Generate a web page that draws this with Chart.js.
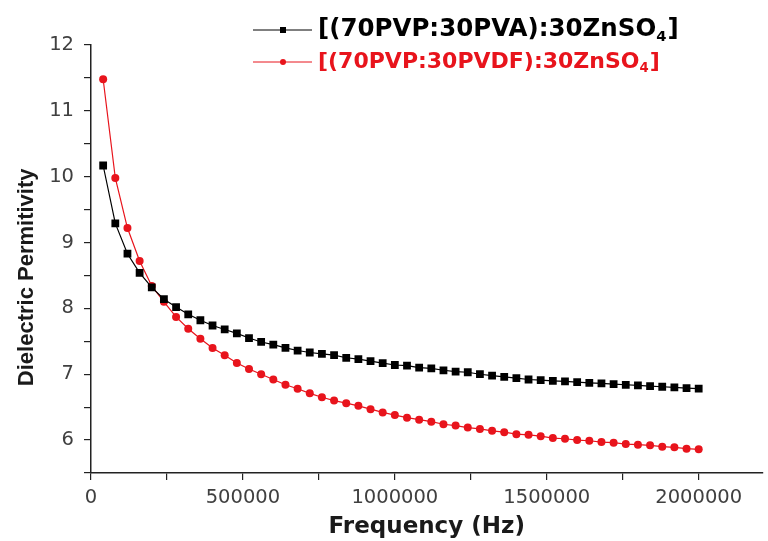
<!DOCTYPE html>
<html>
<head>
<meta charset="utf-8">
<script src="https://cdn.jsdelivr.net/npm/chart.js@4/dist/chart.umd.min.js"></script>
<style>
    body { margin: 0; background: #fff; }
    #wrap { width: 768px; height: 541px; position: relative; }
</style>
</head>
<body>
<div id="wrap"><canvas id="permChart"></canvas></div>
<script>
// Frequency (Hz)
const freq = [
    40000, 80000, 120000, 160000, 200000, 240000, 280000, 320000, 360000, 400000,
    440000, 480000, 520000, 560000, 600000, 640000, 680000, 720000, 760000, 800000,
    840000, 880000, 920000, 960000, 1000000, 1040000, 1080000, 1120000, 1160000, 1200000,
    1240000, 1280000, 1320000, 1360000, 1400000, 1440000, 1480000, 1520000, 1560000, 1600000,
    1640000, 1680000, 1720000, 1760000, 1800000, 1840000, 1880000, 1920000, 1960000, 2000000
];

// [(70PVP:30PVA):30ZnSO4]
const pvaValues = [
    10.17, 9.29, 8.83, 8.54, 8.32, 8.14, 8.02, 7.91, 7.82, 7.74,
    7.68, 7.62, 7.55, 7.49, 7.45, 7.40, 7.36, 7.33, 7.31, 7.29,
    7.25, 7.23, 7.20, 7.17, 7.14, 7.13, 7.10, 7.09, 7.06, 7.04,
    7.03, 7.00, 6.98, 6.96, 6.94, 6.92, 6.91, 6.90, 6.89, 6.88,
    6.87, 6.86, 6.85, 6.84, 6.83, 6.82, 6.81, 6.80, 6.79, 6.78
];

// [(70PVP:30PVDF):30ZnSO4]
const pvdfValues = [
    11.48, 9.98, 9.22, 8.72, 8.34, 8.10, 7.87, 7.69, 7.54, 7.40,
    7.29, 7.17, 7.08, 7.00, 6.92, 6.84, 6.78, 6.71, 6.65, 6.60,
    6.56, 6.52, 6.47, 6.42, 6.38, 6.34, 6.31, 6.28, 6.24, 6.22,
    6.19, 6.17, 6.14, 6.12, 6.09, 6.08, 6.06, 6.03, 6.02, 6.00,
    5.99, 5.97, 5.96, 5.94, 5.93, 5.92, 5.90, 5.89, 5.87, 5.86
];

const seriesNames = ['[(70PVP:30PVA):30ZnSO\u2084]', '[(70PVP:30PVDF):30ZnSO\u2084]'];
const seriesColors = ['#000000', '#e8141c'];

// major ticks get a label, the ones in between are minor
const xTickValues = [0, 250000, 500000, 750000, 1000000, 1250000, 1500000, 1750000, 2000000];
const xTickLabels = ['0', '', '500000', '', '1000000', '', '1500000', '', '2000000'];
const yTickValues = [5.5, 6, 6.5, 7, 7.5, 8, 8.5, 9, 9.5, 10, 10.5, 11, 11.5, 12];
const yTickLabels = ['', '6', '', '7', '', '8', '', '9', '', '10', '', '11', '', '12'];

const xTitle = 'Frequency (Hz)';
const yTitle = 'Dielectric Permitivity';

function toPoints(values) {
    return values.map((v, i) => ({ x: freq[i], y: v }));
}

// legend drawn by hand so the "4" can be a real subscript
const legendRows = [
    { y: 30, size: 24.5 },
    { y: 62, size: 22 }
];

const subLegend = {
    id: 'subLegend',
    afterDraw(chart) {
        const ctx = chart.ctx;
        chart.data.datasets.forEach((ds, i) => {
            const row = legendRows[i];
            ctx.save();
            ctx.strokeStyle = ds.borderColor;
            ctx.fillStyle = ds.borderColor;
            ctx.lineWidth = 1;
            ctx.beginPath();
            ctx.moveTo(253, row.y);
            ctx.lineTo(312, row.y);
            ctx.stroke();
            if (ds.pointStyle === 'rect') {
                ctx.fillRect(280, row.y - 3, 6, 6);
            } else {
                ctx.beginPath();
                ctx.arc(283, row.y, 3, 0, Math.PI * 2);
                ctx.fill();
            }

            const font = 'bold ' + row.size + 'px "DejaVu Sans"';
            const subFont = 'bold ' + (row.size * 0.6).toFixed(1) + 'px "DejaVu Sans"';
            const parts = ds.label.split('\u2084');
            ctx.textBaseline = 'middle';
            ctx.textAlign = 'left';
            let x = 318;
            ctx.font = font;
            ctx.fillText(parts[0], x, row.y);
            x += ctx.measureText(parts[0]).width;
            ctx.font = subFont;
            ctx.fillText('4', x, row.y + row.size * 0.3);
            x += ctx.measureText('4').width + 1;
            ctx.font = font;
            ctx.fillText(parts[1], x, row.y);
            ctx.restore();
        });
    }
};

const permChartConfig = {
    type: 'line',
    data: {
        datasets: [
            {
                label: seriesNames[0],
                data: toPoints(pvaValues),
                borderColor: seriesColors[0],
                backgroundColor: seriesColors[0],
                borderWidth: 1.2,
                pointStyle: 'rect',
                pointRadius: 5.5,
                pointBorderWidth: 0,
                tension: 0
            },
            {
                label: seriesNames[1],
                data: toPoints(pvdfValues),
                borderColor: seriesColors[1],
                backgroundColor: seriesColors[1],
                borderWidth: 1.2,
                pointStyle: 'circle',
                pointRadius: 4,
                pointBorderWidth: 0,
                tension: 0
            }
        ]
    },
    options: {
        responsive: true,
        maintainAspectRatio: false,
        animation: false,
        devicePixelRatio: 1,
        layout: { padding: { top: 45, right: 0, left: 0, bottom: 0 } },
        plugins: {
            legend: { display: false },
            tooltip: { enabled: false }
        },
        scales: {
            x: {
                type: 'linear',
                min: 0,
                max: 2210000,
                afterBuildTicks: (s) => { s.ticks = xTickValues.map((v) => ({ value: v })); },
                afterFit: (s) => { s.height = 68; },
                border: { display: true, color: '#222', width: 1.5 },
                grid: { drawOnChartArea: false, drawTicks: true, tickLength: 7, color: '#222', lineWidth: 1.2 },
                ticks: {
                    maxRotation: 0,
                    autoSkip: false,
                    padding: 6,
                    color: '#404040',
                    font: { family: '"DejaVu Sans"', size: 19.5 },
                    callback: (v, i) => xTickLabels[i]
                },
                title: {
                    display: true,
                    text: xTitle,
                    color: '#1a1a1a',
                    font: { family: '"DejaVu Sans"', size: 23, weight: 'bold' },
                    padding: { top: 0, bottom: 0 }
                }
            },
            y: {
                min: 5.5,
                max: 12,
                afterBuildTicks: (s) => { s.ticks = yTickValues.map((v) => ({ value: v })); },
                afterFit: (s) => { s.width = 91; },
                border: { display: true, color: '#222', width: 1.5 },
                grid: { drawOnChartArea: false, drawTicks: true, tickLength: 7, color: '#222', lineWidth: 1.2 },
                ticks: {
                    autoSkip: false,
                    padding: 10,
                    color: '#404040',
                    font: { family: '"DejaVu Sans"', size: 19.5 },
                    callback: (v, i) => yTickLabels[i]
                },
                title: {
                    display: true,
                    text: yTitle + '      ',
                    color: '#1a1a1a',
                    font: { family: '"Liberation Sans"', size: 22, weight: 'bold' },
                    padding: { top: 14, bottom: 0 }
                }
            }
        }
    },
    plugins: [subLegend]
};

const ctx = document.getElementById('permChart').getContext('2d');
const permChartInstance = new Chart(ctx, permChartConfig);
</script>
</body>
</html>
